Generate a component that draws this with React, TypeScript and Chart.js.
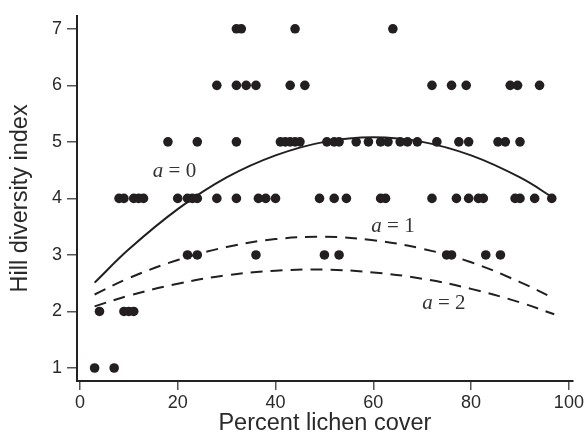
import React, { useEffect, useRef } from "react";
import { Chart, registerables } from "chart.js";

Chart.register(...registerables);

// Observed points: x = percent lichen cover for each Hill diversity level
const row7 = [32, 33, 44, 64];
const row6 = [28, 32, 34, 36, 43, 46, 72, 76, 79, 88, 89.5, 94];
const row5 = [18, 24, 32, 41, 42, 43, 44, 45, 50.5, 52, 53, 56.5, 59, 61.5, 63, 65.5, 67, 69, 73, 77.5, 79.5, 85.5, 87, 90];
const row4 = [8, 9, 11, 12, 13, 20, 22, 23, 24, 28, 32, 36.5, 38, 40, 49, 52, 54.5, 61.5, 62.5, 72, 77, 79.5, 81.5, 82.5, 89, 90, 93, 96.5];
const row3 = [22, 24, 36, 50, 53, 75, 76, 83, 86];
const row2 = [4, 9, 10, 11];
const row1 = [3, 7];

// Fitted curves
const curveX = [3, 10, 20, 30, 40, 50, 60, 70, 80, 90, 97];
const curveA0 = [2.51, 3.1, 3.81, 4.37, 4.76, 5.0, 5.08, 5.0, 4.76, 4.37, 4.0];
const curveA1 = [2.3, 2.59, 2.91, 3.14, 3.28, 3.32, 3.26, 3.11, 2.87, 2.52, 2.23];
const curveA2 = [2.09, 2.28, 2.49, 2.64, 2.72, 2.74, 2.69, 2.58, 2.4, 2.16, 1.95];

const xTicks = [0, 20, 40, 60, 80, 100];
const yTicks = [1, 2, 3, 4, 5, 6, 7];

const curveLabels = [
  { num: "0", x: 14.9, y: 4.37 },
  { num: "1", x: 59.6, y: 3.4 },
  { num: "2", x: 70.0, y: 2.04 },
];

const INK = "#231f20";
const TEXT = "#2a2a2a";
const SANS = "'Liberation Sans', Arial, Helvetica, sans-serif";

export default function App() {
  const ref = useRef<HTMLCanvasElement | null>(null);

  useEffect(() => {
    if (!ref.current) return;
    const rows = [row1, row2, row3, row4, row5, row6, row7];
    const points: { x: number; y: number }[] = [];
    rows.forEach((xs, i) => xs.forEach((x) => points.push({ x, y: i + 1 })));
    const toXY = (ys: number[]) => curveX.map((x, i) => ({ x, y: ys[i] }));

    const labelPlugin = {
      id: "curveLabels",
      afterDatasetsDraw(chart: any) {
        const { ctx, scales } = chart;
        ctx.save();
        ctx.fillStyle = "#333";
        ctx.textBaseline = "alphabetic";
        ctx.textAlign = "left";
        curveLabels.forEach((l) => {
          let px = scales.x.getPixelForValue(l.x);
          const py = scales.y.getPixelForValue(l.y);
          ctx.font = "italic 21px 'Liberation Serif', 'Times New Roman', serif";
          ctx.fillText("a", px, py);
          px += ctx.measureText("a").width;
          ctx.font = "21px 'Liberation Serif', 'Times New Roman', serif";
          ctx.fillText(" = " + l.num, px, py);
        });
        ctx.restore();
      },
    };

    const lineDs = (data: number[], dash: number[]) => ({
      type: "line" as const,
      data: toXY(data),
      borderColor: INK,
      borderWidth: 2,
      borderDash: dash,
      pointRadius: 0,
      tension: 0.4,
      fill: false,
    });

    const chart = new Chart(ref.current, {
      type: "scatter",
      data: {
        datasets: [
          {
            data: points,
            backgroundColor: INK,
            borderColor: INK,
            pointRadius: 4.8,
            pointBorderWidth: 0,
          } as any,
          lineDs(curveA0, []),
          lineDs(curveA1, [12, 8]),
          lineDs(curveA2, [12, 8]),
        ],
      },
      options: {
        animation: false,
        responsive: false,
        layout: { padding: { top: 12, right: 12, left: 0, bottom: 0 } },
        plugins: { legend: { display: false }, tooltip: { enabled: false } },
        scales: {
          x: {
            type: "linear",
            min: -0.6,
            max: 100.8,
            afterBuildTicks: (s: any) => {
              s.ticks = xTicks.map((v) => ({ value: v }));
            },
            afterFit: (s: any) => {
              s.height = 57;
            },
            grid: { drawOnChartArea: false, drawTicks: true, tickLength: 9, color: "#555", lineWidth: 1.5 },
            border: { display: true, color: "#222", width: 2 },
            ticks: { font: { size: 18, family: SANS }, color: TEXT, padding: 2, maxRotation: 0 },
            title: { display: true, text: "Percent lichen cover", font: { size: 23.5, family: SANS }, color: TEXT, padding: { top: 0, bottom: 0 } },
          },
          y: {
            type: "linear",
            min: 0.77,
            max: 7.23,
            afterBuildTicks: (s: any) => {
              s.ticks = yTicks.map((v) => ({ value: v }));
            },
            afterFit: (s: any) => {
              s.width = 77;
            },
            grid: { drawOnChartArea: false, drawTicks: true, tickLength: 10, color: "#555", lineWidth: 1.5 },
            border: { display: true, color: "#222", width: 2 },
            ticks: { font: { size: 18, family: SANS }, color: TEXT, padding: 5 },
            title: { display: true, text: "Hill diversity index", font: { size: 23.5, family: SANS }, color: TEXT, padding: { top: 6, bottom: 0 } },
          },
        },
      },
      plugins: [labelPlugin],
    });
    return () => chart.destroy();
  }, []);

  return (
    <div style={{ position: "absolute", left: 0, top: 0, width: 586, height: 438, background: "#fff" }}>
      <canvas ref={ref} width={586} height={438} style={{ width: 586, height: 438 }} />
    </div>
  );
}
